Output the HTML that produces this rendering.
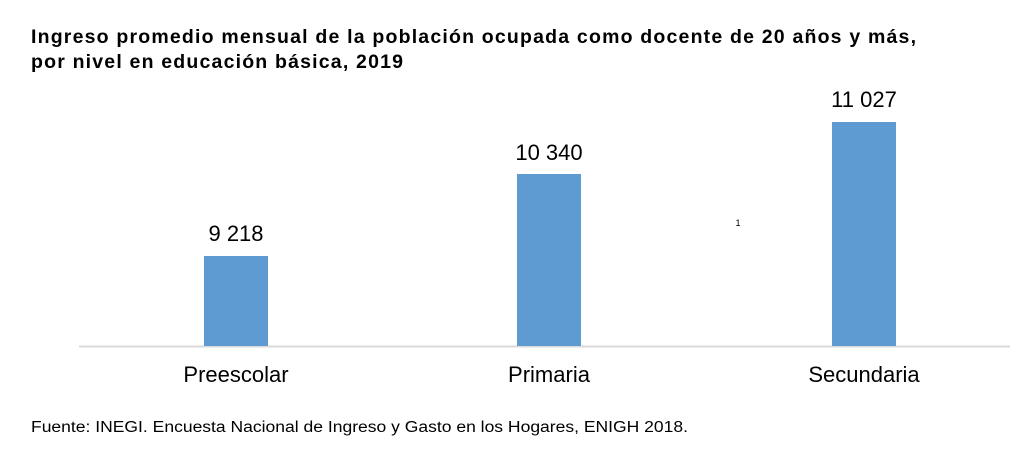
<!DOCTYPE html>
<html><head><meta charset="utf-8"><style>body{margin:0;background:#fff}svg{display:block}</style></head><body>
<svg width="1012" height="462" xmlns="http://www.w3.org/2000/svg" font-family="Liberation Sans, Arial, sans-serif">
<rect width="1012" height="462" fill="#fff"/>
<text x="31" y="43" font-size="19.5" font-weight="bold" textLength="885" lengthAdjust="spacing">Ingreso promedio mensual de la población ocupada como docente de 20 años y más,</text>
<text x="31" y="68" font-size="19.5" font-weight="bold" textLength="372" lengthAdjust="spacing">por nivel en educación básica, 2019</text>
<line x1="79" y1="346.5" x2="1010" y2="346.5" stroke="#d9d9d9" stroke-width="2"/>
<rect x="204" y="256" width="64" height="90" fill="#5f9bd3"/>
<rect x="517" y="174" width="64" height="172" fill="#5f9bd3"/>
<rect x="832" y="122" width="64" height="224" fill="#5f9bd3"/>
<g font-size="22" text-anchor="middle" fill="#000">
<text x="236" y="241">9 218</text>
<text x="549" y="160">10 340</text>
<text x="864" y="107">11 027</text>
<text x="236" y="382">Preescolar</text>
<text x="549" y="382">Primaria</text>
<text x="864" y="382">Secundaria</text>
</g>
<text x="738" y="226" font-size="9" text-anchor="middle">1</text>
<text x="31" y="432" font-size="15.5" textLength="657" lengthAdjust="spacingAndGlyphs">Fuente: INEGI. Encuesta Nacional de Ingreso y Gasto en los Hogares, ENIGH 2018.</text>
</svg>
</body></html>
